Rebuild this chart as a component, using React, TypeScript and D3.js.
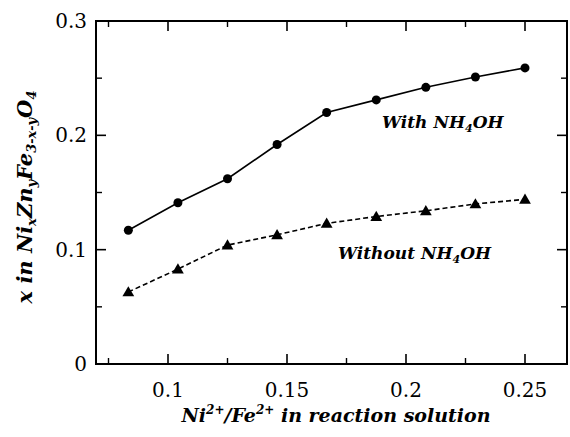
import React from "react";
import * as d3 from "d3";

const ratios = [4 / 48, 5 / 48, 6 / 48, 7 / 48, 8 / 48, 9 / 48, 10 / 48, 11 / 48, 12 / 48];
const withNH4OH = [0.117, 0.141, 0.162, 0.192, 0.220, 0.231, 0.242, 0.251, 0.259];
const withoutNH4OH = [0.063, 0.083, 0.104, 0.113, 0.123, 0.129, 0.134, 0.140, 0.144];
const xMajorTicks = [0.1, 0.15, 0.2, 0.25];
const xMinorTicks = [0.075, 0.125, 0.175, 0.225];
const yMajorTicks = [0, 0.1, 0.2, 0.3];
const yMinorTicks = [0.05, 0.15, 0.25];
const xTickLabels = ["0.1", "0.15", "0.2", "0.25"];
const yTickLabels = ["0", "0.1", "0.2", "0.3"];

const W = 570, H = 437;
const L = 96, R = 567, T = 21, B = 364;

export default function App() {
  const x = d3.scaleLinear().domain([0.1, 0.25]).range([168, 525]);
  const y = d3.scaleLinear().domain([0, 0.3]).range([B, T]);
  const line = d3.line<number>().x((_, i) => x(ratios[i])).y((d) => y(d));
  const tri = d3.symbol().type(d3.symbolTriangle).size(60)();
  const font = '"DejaVu Serif", serif';
  const majLen = 10, minLen = 6;
  return (
    <svg width={W} height={H} style={{ position: "absolute", left: 0, top: 0, background: "#fff", fontFamily: font }}>
      <rect x={0} y={0} width={W} height={H} fill="#fff" />
      <rect x={L} y={T} width={R - L} height={B - T} fill="none" stroke="#000" strokeWidth={2} />
      {xMajorTicks.map((t) => (
        <g key={"xm" + t}>
          <line x1={x(t)} x2={x(t)} y1={B} y2={B - majLen} stroke="#000" strokeWidth={1.6} />
          <line x1={x(t)} x2={x(t)} y1={T} y2={T + majLen} stroke="#000" strokeWidth={1.6} />
        </g>
      ))}
      {xMinorTicks.map((t) => (
        <g key={"xn" + t}>
          <line x1={x(t)} x2={x(t)} y1={B} y2={B - minLen} stroke="#000" strokeWidth={1.4} />
          <line x1={x(t)} x2={x(t)} y1={T} y2={T + minLen} stroke="#000" strokeWidth={1.4} />
        </g>
      ))}
      {yMajorTicks.map((t) => (
        <g key={"ym" + t}>
          <line x1={L} x2={L + majLen} y1={y(t)} y2={y(t)} stroke="#000" strokeWidth={1.6} />
          <line x1={R} x2={R - majLen} y1={y(t)} y2={y(t)} stroke="#000" strokeWidth={1.6} />
        </g>
      ))}
      {yMinorTicks.map((t) => (
        <g key={"yn" + t}>
          <line x1={L} x2={L + minLen} y1={y(t)} y2={y(t)} stroke="#000" strokeWidth={1.4} />
          <line x1={R} x2={R - minLen} y1={y(t)} y2={y(t)} stroke="#000" strokeWidth={1.4} />
        </g>
      ))}
      {xMajorTicks.map((t, i) => (
        <text key={"xl" + t} x={x(t)} y={397} textAnchor="middle" style={{ fontFamily: font }} fontSize={20}>
          {xTickLabels[i]}
        </text>
      ))}
      {yMajorTicks.map((t, i) => (
        <text key={"yl" + t} x={87} y={y(t) + 7} textAnchor="end" style={{ fontFamily: font }} fontSize={20}>
          {yTickLabels[i]}
        </text>
      ))}
      <path d={line(withNH4OH) || ""} fill="none" stroke="#000" strokeWidth={1.6} />
      <path d={line(withoutNH4OH) || ""} fill="none" stroke="#000" strokeWidth={1.6} strokeDasharray="5,3" />
      {withNH4OH.map((v, i) => (
        <circle key={"c" + i} cx={x(ratios[i])} cy={y(v)} r={4.5} fill="#000" />
      ))}
      {withoutNH4OH.map((v, i) => (
        <path key={"t" + i} d={tri || ""} transform={`translate(${x(ratios[i])},${y(v) + 1})`} fill="#000" />
      ))}
      <text x={382} y={128} style={{ fontFamily: font }} fontSize={17} fontWeight="bold" fontStyle="italic">
        With NH<tspan fontSize={11} dy={4}>4</tspan><tspan dy={-4}>OH</tspan>
      </text>
      <text x={338} y={259} style={{ fontFamily: font }} fontSize={17} fontWeight="bold" fontStyle="italic">
        Without NH<tspan fontSize={11} dy={4}>4</tspan><tspan dy={-4}>OH</tspan>
      </text>
      <text x={336} y={422} textAnchor="middle" style={{ fontFamily: font }} fontSize={19} fontWeight="bold" fontStyle="italic">
        Ni<tspan fontSize={12} dy={-8}>2+</tspan><tspan dy={8}>/Fe</tspan><tspan fontSize={12} dy={-8}>2+</tspan><tspan dy={8}> in reaction solution</tspan>
      </text>
      <text transform="translate(32,197) rotate(-90)" textAnchor="middle" style={{ fontFamily: font }} fontSize={21} fontWeight="bold" fontStyle="italic">
        x in Ni<tspan fontSize={13} dy={4}>x</tspan><tspan dy={-4}>Zn</tspan><tspan fontSize={13} dy={4}>y</tspan><tspan dy={-4}>Fe</tspan><tspan fontSize={13} dy={4}>3-x-y</tspan><tspan dy={-4}>O</tspan><tspan fontSize={13} dy={4}>4</tspan>
      </text>
    </svg>
  );
}
